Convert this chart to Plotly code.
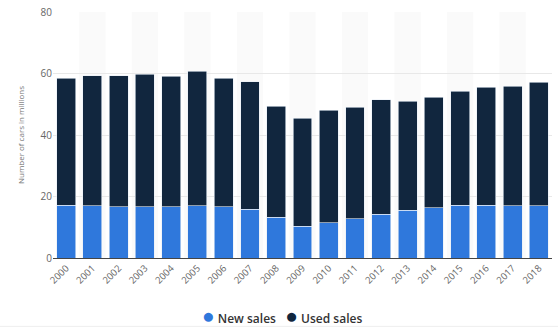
import plotly.graph_objects as go

years = [str(y) for y in range(2000, 2019)]
new_sales = [17.2, 17.0, 16.7, 16.6, 16.7, 17.0, 16.6, 15.9, 13.2, 10.4, 11.4, 12.7, 14.2, 15.5, 16.3, 17.1, 17.1, 17.0, 17.0]
total_sales = [58.5, 59.3, 59.3, 59.8, 59.1, 60.7, 58.5, 57.3, 49.3, 45.5, 48.1, 49.1, 51.5, 50.9, 52.2, 54.3, 55.5, 55.8, 57.1]
used_sales = [round(t - n, 1) for t, n in zip(total_sales, new_sales)]
y_ticks = [0, 20, 40, 60, 80]
series_names = ["New sales", "Used sales"]

NEW_COLOR = "#2f78dc"
USED_COLOR = "#11263e"
colors = [NEW_COLOR, USED_COLOR]

fig = go.Figure()
for vals, nm, col in zip([new_sales, used_sales], series_names, colors):
    fig.add_trace(go.Bar(x=years, y=vals, name=nm, showlegend=False,
                         marker=dict(color=col, line=dict(color="#e8eef7", width=0.6)), width=0.72))

shapes = []
for i, yr in enumerate(years):
    if i % 2 == 1:
        shapes.append(dict(type="rect", xref="x", yref="paper", x0=i - 0.5, x1=i + 0.5, y0=0, y1=1,
                           fillcolor="#fafafa", line=dict(width=0), layer="below"))
shapes.append(dict(type="line", xref="paper", yref="paper", x0=-0.11, x1=1.02, y0=-0.278, y1=-0.278,
                   line=dict(color="#eeeeee", width=1)))

legend_text = "&nbsp;&nbsp;&nbsp;".join(
    f"<span style='color:{c};font-size:21px'>●</span> {n}" for n, c in zip(series_names, colors))

fig.update_layout(
    barmode="stack",
    width=558, height=330,
    margin=dict(l=53, r=6, t=12, b=72, autoexpand=False),
    paper_bgcolor="white", plot_bgcolor="white",
    font=dict(family="Open Sans, sans-serif", color="#666666", size=10),
    shapes=shapes,
    showlegend=False,
    annotations=[dict(text=legend_text, xref="paper", yref="paper", x=0.458, y=-0.232,
                      xanchor="center", yanchor="middle", showarrow=False,
                      font=dict(size=12, color="#333333", weight=600))],
)
fig.update_xaxes(type="category", tickangle=-45, tickfont=dict(size=9.5, color="#666666"),
                 showline=True, linecolor="#444444", linewidth=1, showgrid=False, ticks="",
                 range=[-0.5, len(years) - 0.5], automargin=False)
fig.update_yaxes(range=[0, 80], tickvals=y_ticks, showgrid=True, gridcolor="#e8e8e8", gridwidth=1,
                 zeroline=False, tickfont=dict(size=10, color="#666666"), ticks="", ticklen=0,
                 automargin=False,
                 title=dict(text="Number of cars in millions", font=dict(size=8, color="#777777"), standoff=14))

fig.write_html("out.html")
